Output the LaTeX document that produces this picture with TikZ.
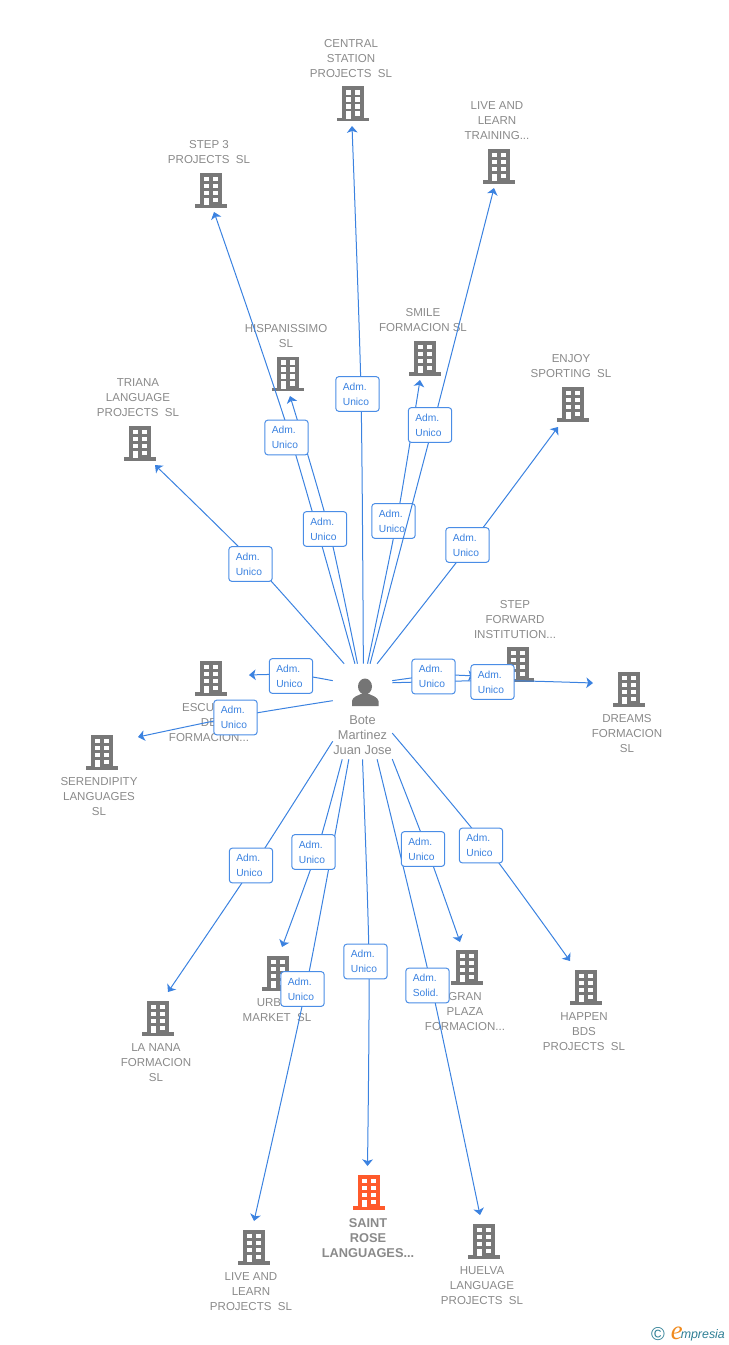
\documentclass[tikz,border=0pt]{standalone}
\usepackage{fontspec}
\setmainfont{Liberation Sans}
\newfontfamily\logofont[Ligatures=TeX]{Liberation Serif}
\usetikzlibrary{arrows.meta,calc}
\definecolor{linkblue}{HTML}{3B82E0}
\definecolor{boxblue}{HTML}{4A8DE6}
\definecolor{txtgray}{HTML}{8A8A8A}
\definecolor{bldggray}{HTML}{787878}
\definecolor{bldgorange}{HTML}{FF5A2B}
\definecolor{persongray}{HTML}{757575}
\definecolor{logoteal}{HTML}{2F7F95}
\definecolor{logoorange}{HTML}{F08A1E}
\pgfdeclarelayer{bldglayer}
\pgfdeclarelayer{lowbox}
\pgfdeclarelayer{connlayer}
\pgfsetlayers{bldglayer,lowbox,connlayer,main}
\tikzset{
  x=0.75pt,y=-0.75pt,
  bldgbox/.style={inner sep=0pt,minimum width=24pt,minimum height=25pt},
  caption/.style={text=txtgray,align=center,inner sep=0pt,yshift=-0.75pt,font=\fontsize{8.65pt}{11.25pt}\selectfont},
  captionbold/.style={caption,font=\fontsize{9.6pt}{11.25pt}\selectfont\bfseries},
  personname/.style={text=txtgray,align=center,inner sep=0pt,font=\fontsize{9.6pt}{11.25pt}\selectfont},
  rolebox/.style={draw=boxblue,fill=white,rounded corners=2.2pt,line width=0.75pt,text width=22pt,inner xsep=5.25pt,inner ysep=0pt,minimum height=26pt,align=left,text=linkblue,font=\fontsize{7.7pt}{11.25pt}\selectfont},
  link/.style={draw=linkblue,line width=0.75pt,-{Stealth[length=5pt,width=8pt,inset=1.3pt]}},
  personbox/.style={inner sep=0pt,minimum width=44.25pt,minimum height=71.25pt},
}
% \bldg{name}{x}{y}{colour}
\newcommand{\bldg}[4]{%
  \node[bldgbox] (#1) at (#2,#3) {};
  \begin{scope}[shift={(#2,#3)}]
    \fill[#4] (-11,-17) rectangle (11,15);
    \fill[#4] (-16,14) rectangle (16,17.5);
    \foreach \r in {-13.5,-6.5,0.5}{
      \fill[white] (-7.2,\r) rectangle (-2.4,\r+4.8);
      \fill[white] (2.4,\r) rectangle (7.2,\r+4.8);
    }
    \fill[white] (2.4,7.5) rectangle (7.2,12);
    \fill[white] (-7.2,7.5) rectangle (-2.4,15);
  \end{scope}}
% \lnk{anchor}{role box}{tip}: smooth line from the person through the box to the tip
\newcommand{\lnk}[3]{%
  \path ($(#2.center)+(3.5,-1.5)$) coordinate (w#2);
  \draw[link] plot[smooth,tension=0.45] coordinates {(person.#1) (w#2) (#3)};}
\begin{document}
\begin{tikzpicture}
\useasboundingbox (0,0) rectangle (728,1345);
\begin{pgfonlayer}{bldglayer}
\bldg{central}{353}{103.5}{bldggray}
\node[caption] (centralt) at (351,58) {CENTRAL\\STATION\\PROJECTS\ \ SL};
\bldg{training}{499}{166}{bldggray}
\node[caption] (trainingt) at (497,120) {LIVE AND\\LEARN\\TRAINING...};
\bldg{stepthree}{211}{190}{bldggray}
\node[caption] (stepthreet) at (209,151.5) {STEP 3\\PROJECTS\ \ SL};
\bldg{hispan}{288}{373.5}{bldggray}
\node[caption] (hispant) at (286,335.5) {HISPANISSIMO\\SL};
\bldg{smile}{425}{358}{bldggray}
\node[caption] (smilet) at (423,319.5) {SMILE\\FORMACION SL};
\bldg{enjoy}{573}{404}{bldggray}
\node[caption] (enjoyt) at (571,365.5) {ENJOY\\SPORTING\ \ SL};
\bldg{triana}{140}{443}{bldggray}
\node[caption] (trianat) at (138,397) {TRIANA\\LANGUAGE\\PROJECTS\ \ SL};
\bldg{escuela}{211}{678}{bldggray}
\node[caption] (escuelat) at (209,722) {ESCUELA\\DE\\FORMACION...};
\bldg{serendip}{102}{752}{bldggray}
\node[caption] (serendipt) at (99,796) {SERENDIPITY\\LANGUAGES\\SL};
\bldg{stepfwd}{518}{664}{bldggray}
\node[caption] (stepfwdt) at (515,619) {STEP\\FORWARD\\INSTITUTION...};
\bldg{dreams}{629}{689}{bldggray}
\node[caption] (dreamst) at (627,733) {DREAMS\\FORMACION\\SL};
\bldg{lanana}{158}{1018}{bldggray}
\node[caption] (lananat) at (156,1062) {LA NANA\\FORMACION\\SL};
\bldg{urban}{278}{973}{bldggray}
\node[caption] (urbant) at (277,1009.5) {URBAN\\MARKET\ \ SL};
\bldg{gran}{467}{967}{bldggray}
\node[caption] (grant) at (465,1011) {GRAN\\PLAZA\\FORMACION...};
\bldg{happen}{586}{987}{bldggray}
\node[caption] (happent) at (584,1031) {HAPPEN\\BDS\\PROJECTS\ \ SL};
\bldg{liveproj}{254}{1247}{bldggray}
\node[caption] (liveprojt) at (251,1291) {LIVE AND\\LEARN\\PROJECTS\ \ SL};
\bldg{saint}{369}{1192}{bldgorange}
\node[captionbold] (saintt) at (368,1237) {SAINT\\ROSE\\LANGUAGES...};
\bldg{huelva}{484}{1241}{bldggray}
\node[caption] (huelvat) at (482,1285) {HUELVA\\LANGUAGE\\PROJECTS\ \ SL};
\end{pgfonlayer}

% person
\node[personbox] (person) at (362.5,711.5) {};
\fill[persongray] (365,686.5) ellipse (7 and 8);
\fill[persongray] (352,706) -- (352,701) .. controls (352.5,697) and (357,696) .. (361,694) -- (369,694) .. controls (373,696) and (377.5,697) .. (378.5,701) -- (378.5,706) -- cycle;
\node[personname] (persont) at (362.5,735) {Bote\\Martinez\\Juan Jose};

% role boxes
\node[rolebox] (r1) at (357.5,394) {Adm.\\Unico};
\node[rolebox] (r2) at (430,425) {Adm.\\Unico};
\node[rolebox] (r3) at (286.5,437.5) {Adm.\\Unico};
\node[rolebox] (r4) at (325,529) {Adm.\\Unico};
\begin{pgfonlayer}{lowbox}
\node[rolebox] (r5) at (393.5,521) {Adm.\\Unico};
\end{pgfonlayer}
\node[rolebox] (r6) at (467.5,545) {Adm.\\Unico};
\node[rolebox] (r7) at (250.5,564) {Adm.\\Unico};
\node[rolebox] (r8) at (291,676) {Adm.\\Unico};
\node[rolebox] (r9) at (235.5,717.5) {Adm.\\Unico};
\node[rolebox] (r10) at (433.5,676.5) {Adm.\\Unico};
\node[rolebox] (r11) at (492.5,682) {Adm.\\Unico};
\node[rolebox] (r12) at (251,865.5) {Adm.\\Unico};
\node[rolebox] (r13) at (313.5,852) {Adm.\\Unico};
\node[rolebox] (r14) at (302.5,989) {Adm.\\Unico};
\node[rolebox] (r15) at (365.5,961.5) {Adm.\\Unico};
\node[rolebox] (r16) at (427.5,985.5) {Adm.\\Solid.};
\node[rolebox] (r17) at (423,849) {Adm.\\Unico};
\node[rolebox] (r18) at (481,845.5) {Adm.\\Unico};

% arrow ends
\coordinate (t1) at (352,126);
\coordinate (t2) at (494,188);
\coordinate (t3) at (214,212);
\coordinate (t4) at (290,396);
\coordinate (t5) at (420,380);
\coordinate (t6) at (558,427);
\coordinate (t7) at (155,465);
\coordinate (t8) at (249,675);
\coordinate (t9) at (138,737);
\coordinate (t10) at (475,676);
\coordinate (t11) at (593,683);
\coordinate (t12) at (168,992);
\coordinate (t13) at (282,947);
\coordinate (t14) at (254,1221);
\coordinate (t15) at (367.5,1166);
\coordinate (t16) at (480,1215);
\coordinate (t17) at (460,942);
\coordinate (t18) at (570,961);

\begin{pgfonlayer}{bldglayer}
\lnk{84.6}{r5}{t5}
\end{pgfonlayer}
\begin{pgfonlayer}{connlayer}
\lnk{89.4}{r1}{t1}
\lnk{81}{r2}{t2}
\lnk{99}{r3}{t3}
\lnk{96.6}{r4}{t4}
\lnk{73}{r6}{t6}
\lnk{111.3}{r7}{t7}
\lnk{134}{r8}{t8}
\lnk{160.4}{r9}{t9}
\lnk{46}{r10}{t10}
\lnk{44}{r11}{t11}
\lnk{225}{r12}{t12}
\lnk{247.7}{r13}{t13}
\lnk{254.1}{r14}{t14}
\lnk{270.6}{r15}{t15}
\lnk{287}{r16}{t16}
\lnk{302.7}{r17}{t17}
\lnk{-36}{r18}{t18}
\end{pgfonlayer}

% logo
\node[inner sep=0pt,text=logoteal,font=\fontsize{14pt}{14pt}\selectfont] (logoc) at (658,1334) {©};
\node[inner sep=0pt,anchor=base west,text=logoorange,font=\logofont\itshape\fontsize{20pt}{20pt}\selectfont] (logoe) at (670.5,1339) {e};
\node[inner sep=0pt,anchor=base west,text=logoteal,font=\itshape\fontsize{9.3pt}{10pt}\selectfont] (logot) at (680.5,1338) {mpresia};
\end{tikzpicture}
\end{document}
